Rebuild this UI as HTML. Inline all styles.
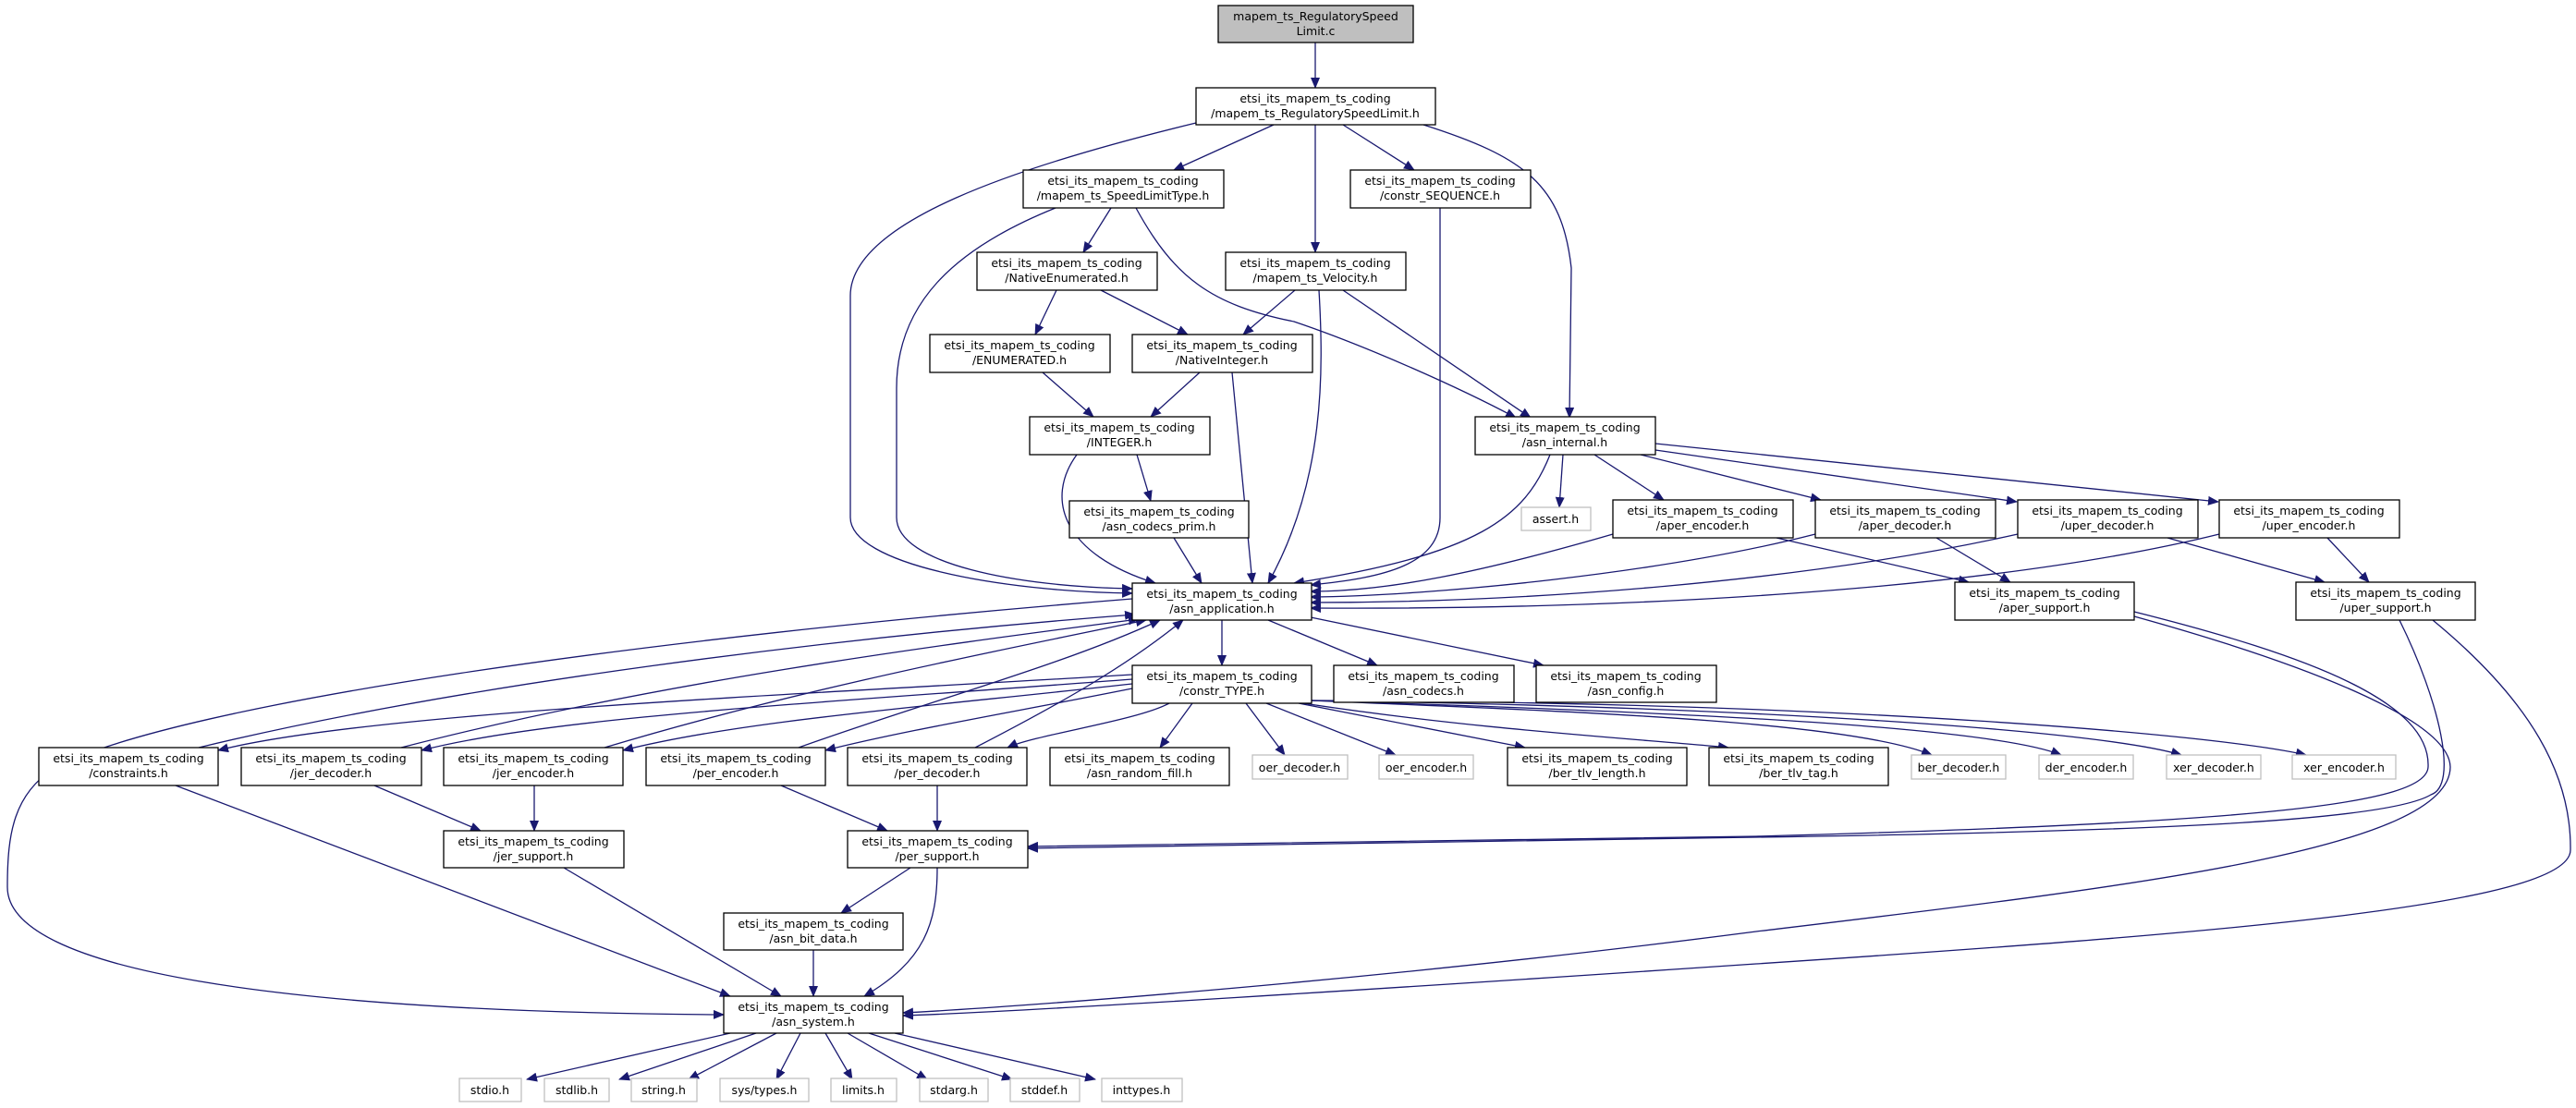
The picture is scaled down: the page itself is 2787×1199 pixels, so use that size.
<!DOCTYPE html>
<html><head><meta charset="utf-8"><style>
html,body{margin:0;padding:0;background:#fff}
svg{display:block}
text{font-family:"DejaVu Sans","Liberation Sans",sans-serif;font-size:12.5px;fill:#000}
.e{fill:none;stroke:#191970;stroke-width:1.3}
.n{fill:#fff;stroke:#000;stroke-width:1.3}
.g{fill:#fff;stroke:#bfbfbf;stroke-width:1.3}
</style></head><body>
<svg width="2787" height="1199" viewBox="0 0 2787 1199" xmlns="http://www.w3.org/2000/svg">
<defs><marker id="a" markerWidth="12" markerHeight="10" refX="11" refY="5" orient="auto" markerUnits="userSpaceOnUse"><path d="M0,0 L12,5 L0,10 z" fill="#191970"/></marker></defs>
<g class="e" marker-end="url(#a)">
<path d="M1423,46 L1423,95"/>
<path d="M1294,133 C1100,180 920,240 920,320 L920,560 C920,610 1080,640 1225,642"/>
<path d="M1378,135 L1270,184"/>
<path d="M1423,135 L1423,273"/>
<path d="M1453,135 L1530,184"/>
<path d="M1540,135 C1650,170 1690,200 1700,290 L1698,452"/>
<path d="M1142,225 C1030,270 970,330 970,420 L970,560 C970,610 1100,635 1225,637"/>
<path d="M1202,225 L1172,273"/>
<path d="M1229,225 C1270,300 1310,330 1400,348 C1480,375 1580,420 1640,452"/>
<path d="M1558,225 L1558,560 C1558,610 1500,625 1418,633"/>
<path d="M1401,314 L1345,362"/>
<path d="M1427,314 C1432,400 1434,520 1372,631"/>
<path d="M1453,314 L1656,452"/>
<path d="M1143,314 L1120,362"/>
<path d="M1191,314 L1285,362"/>
<path d="M1128,403 L1183,451"/>
<path d="M1298,403 L1245,451"/>
<path d="M1333,403 L1355,631"/>
<path d="M1165,492 C1130,540 1150,600 1250,631"/>
<path d="M1230,492 L1245,542"/>
<path d="M1270,582 L1300,631"/>
<path d="M1691,492 L1687,549"/>
<path d="M1677,492 C1650,560 1600,600 1400,631"/>
<path d="M1725,492 L1800,541"/>
<path d="M1775,492 L1970,541"/>
<path d="M1791,487 L2182,543"/>
<path d="M1791,480 L2400,543"/>
<path d="M1745,578 C1600,620 1500,640 1418,640"/>
<path d="M1964,578 C1800,620 1550,645 1418,646"/>
<path d="M2183,578 C1950,630 1650,652 1418,652"/>
<path d="M2401,578 C2150,640 1750,660 1418,658"/>
<path d="M1922,582 L2130,630"/>
<path d="M2095,582 L2175,630"/>
<path d="M2345,582 L2515,630"/>
<path d="M2518,582 L2563,630"/>
<path d="M2309,662 C2500,710 2630,760 2627,830 C2625,870 2450,890 1900,905 L1112,916"/>
<path d="M2309,667 C2500,720 2650,780 2651,830 C2650,920 2300,960 1900,1008 C1500,1060 1100,1090 977,1096"/>
<path d="M2596,671 C2640,760 2660,850 2630,860 C2580,890 2300,900 1900,906 L1112,918"/>
<path d="M2632,671 C2740,760 2782,840 2781,920 C2780,980 2400,1010 1900,1043 C1500,1070 1100,1095 977,1099"/>
<path d="M1322,671 L1322,720"/>
<path d="M1372,671 L1490,720"/>
<path d="M1418,668 L1670,720"/>
<path d="M1225,648 C700,690 200,760 60,830 C15,860 8,900 8,960 C8,1050 300,1095 783,1098"/>
<path d="M1225,730 C900,750 400,770 236,812"/>
<path d="M1225,735 C900,760 600,775 456,812"/>
<path d="M1225,740 C1000,765 800,780 674,812"/>
<path d="M1225,745 C1100,770 980,790 893,812"/>
<path d="M1265,761 C1230,780 1120,795 1090,809"/>
<path d="M1290,761 L1255,809"/>
<path d="M1348,761 L1390,817"/>
<path d="M1370,761 L1510,817"/>
<path d="M1405,761 L1650,809"/>
<path d="M1410,761 C1600,790 1780,800 1870,809"/>
<path d="M1418,758 C1700,770 2000,780 2090,817"/>
<path d="M1418,758 C1800,770 2150,785 2230,817"/>
<path d="M1418,758 C1900,765 2270,790 2360,817"/>
<path d="M1418,758 C2000,760 2400,795 2495,817"/>
<path d="M215,809 C500,740 900,690 1228,665"/>
<path d="M434,809 C700,740 1000,700 1232,670"/>
<path d="M654,809 C850,750 1050,710 1240,671"/>
<path d="M864,809 C1000,760 1150,720 1255,671"/>
<path d="M1055,809 C1150,760 1220,720 1280,671"/>
<path d="M190,850 L790,1078"/>
<path d="M405,850 L520,899"/>
<path d="M578,850 L578,899"/>
<path d="M845,850 L960,899"/>
<path d="M1014,850 L1014,899"/>
<path d="M610,939 L845,1078"/>
<path d="M985,939 L910,988"/>
<path d="M1014,939 C1014,1000 1000,1040 935,1078"/>
<path d="M880,1028 L880,1078"/>
<path d="M790,1118 L570,1168"/>
<path d="M818,1118 L670,1168"/>
<path d="M840,1118 L745,1168"/>
<path d="M866,1118 L840,1168"/>
<path d="M893,1118 L922,1168"/>
<path d="M917,1118 L1003,1168"/>
<path d="M940,1118 L1095,1168"/>
<path d="M968,1118 L1185,1168"/>
</g>
<g>
<rect x="1318" y="6" width="211" height="40" fill="#bfbfbf" stroke="#000" stroke-width="1.3"/>
<text x="1423.5" y="22" text-anchor="middle">mapem_ts_RegulatorySpeed</text><text x="1423.5" y="38" text-anchor="middle">Limit.c</text>
</g>
<g text-anchor="middle">
<rect class="n" x="1294" y="95" width="259" height="40"/><text x="1423" y="111">etsi_its_mapem_ts_coding</text><text x="1423" y="127">/mapem_ts_RegulatorySpeedLimit.h</text>
<rect class="n" x="1107" y="184" width="217" height="41"/><text x="1215" y="200">etsi_its_mapem_ts_coding</text><text x="1215" y="216">/mapem_ts_SpeedLimitType.h</text>
<rect class="n" x="1461" y="184" width="195" height="41"/><text x="1558" y="200">etsi_its_mapem_ts_coding</text><text x="1558" y="216">/constr_SEQUENCE.h</text>
<rect class="n" x="1057" y="273" width="195" height="41"/><text x="1154" y="289">etsi_its_mapem_ts_coding</text><text x="1154" y="305">/NativeEnumerated.h</text>
<rect class="n" x="1326" y="273" width="195" height="41"/><text x="1423" y="289">etsi_its_mapem_ts_coding</text><text x="1423" y="305">/mapem_ts_Velocity.h</text>
<rect class="n" x="1006" y="362" width="195" height="41"/><text x="1103" y="378">etsi_its_mapem_ts_coding</text><text x="1103" y="394">/ENUMERATED.h</text>
<rect class="n" x="1225" y="362" width="195" height="41"/><text x="1322" y="378">etsi_its_mapem_ts_coding</text><text x="1322" y="394">/NativeInteger.h</text>
<rect class="n" x="1114" y="451" width="195" height="41"/><text x="1211" y="467">etsi_its_mapem_ts_coding</text><text x="1211" y="483">/INTEGER.h</text>
<rect class="n" x="1596" y="451" width="195" height="41"/><text x="1693" y="467">etsi_its_mapem_ts_coding</text><text x="1693" y="483">/asn_internal.h</text>
<rect class="n" x="1157" y="542" width="194" height="40"/><text x="1254" y="558">etsi_its_mapem_ts_coding</text><text x="1254" y="574">/asn_codecs_prim.h</text>
<rect class="g" x="1646" y="549" width="75" height="25"/><text x="1683" y="566">assert.h</text>
<rect class="n" x="1745" y="541" width="195" height="41"/><text x="1842" y="557">etsi_its_mapem_ts_coding</text><text x="1842" y="573">/aper_encoder.h</text>
<rect class="n" x="1964" y="541" width="195" height="41"/><text x="2061" y="557">etsi_its_mapem_ts_coding</text><text x="2061" y="573">/aper_decoder.h</text>
<rect class="n" x="2183" y="541" width="195" height="41"/><text x="2280" y="557">etsi_its_mapem_ts_coding</text><text x="2280" y="573">/uper_decoder.h</text>
<rect class="n" x="2401" y="541" width="195" height="41"/><text x="2498" y="557">etsi_its_mapem_ts_coding</text><text x="2498" y="573">/uper_encoder.h</text>
<rect class="n" x="1225" y="631" width="194" height="40"/><text x="1322" y="647">etsi_its_mapem_ts_coding</text><text x="1322" y="663">/asn_application.h</text>
<rect class="n" x="2115" y="630" width="194" height="41"/><text x="2212" y="646">etsi_its_mapem_ts_coding</text><text x="2212" y="662">/aper_support.h</text>
<rect class="n" x="2484" y="630" width="194" height="41"/><text x="2581" y="646">etsi_its_mapem_ts_coding</text><text x="2581" y="662">/uper_support.h</text>
<rect class="n" x="1225" y="720" width="194" height="41"/><text x="1322" y="736">etsi_its_mapem_ts_coding</text><text x="1322" y="752">/constr_TYPE.h</text>
<rect class="n" x="1443" y="720" width="195" height="40"/><text x="1540" y="736">etsi_its_mapem_ts_coding</text><text x="1540" y="752">/asn_codecs.h</text>
<rect class="n" x="1662" y="720" width="195" height="40"/><text x="1759" y="736">etsi_its_mapem_ts_coding</text><text x="1759" y="752">/asn_config.h</text>
<rect class="n" x="42" y="809" width="194" height="41"/><text x="139" y="825">etsi_its_mapem_ts_coding</text><text x="139" y="841">/constraints.h</text>
<rect class="n" x="261" y="809" width="195" height="41"/><text x="358" y="825">etsi_its_mapem_ts_coding</text><text x="358" y="841">/jer_decoder.h</text>
<rect class="n" x="480" y="809" width="194" height="41"/><text x="577" y="825">etsi_its_mapem_ts_coding</text><text x="577" y="841">/jer_encoder.h</text>
<rect class="n" x="699" y="809" width="194" height="41"/><text x="796" y="825">etsi_its_mapem_ts_coding</text><text x="796" y="841">/per_encoder.h</text>
<rect class="n" x="917" y="809" width="194" height="41"/><text x="1014" y="825">etsi_its_mapem_ts_coding</text><text x="1014" y="841">/per_decoder.h</text>
<rect class="n" x="1136" y="809" width="194" height="41"/><text x="1233" y="825">etsi_its_mapem_ts_coding</text><text x="1233" y="841">/asn_random_fill.h</text>
<rect class="g" x="1355" y="817" width="103" height="26"/><text x="1406" y="835">oer_decoder.h</text>
<rect class="g" x="1492" y="817" width="102" height="26"/><text x="1543" y="835">oer_encoder.h</text>
<rect class="n" x="1631" y="809" width="194" height="41"/><text x="1728" y="825">etsi_its_mapem_ts_coding</text><text x="1728" y="841">/ber_tlv_length.h</text>
<rect class="n" x="1849" y="809" width="194" height="41"/><text x="1946" y="825">etsi_its_mapem_ts_coding</text><text x="1946" y="841">/ber_tlv_tag.h</text>
<rect class="g" x="2068" y="817" width="102" height="26"/><text x="2119" y="835">ber_decoder.h</text>
<rect class="g" x="2206" y="817" width="102" height="26"/><text x="2257" y="835">der_encoder.h</text>
<rect class="g" x="2344" y="817" width="102" height="26"/><text x="2395" y="835">xer_decoder.h</text>
<rect class="g" x="2480" y="817" width="112" height="26"/><text x="2536" y="835">xer_encoder.h</text>
<rect class="n" x="480" y="899" width="195" height="40"/><text x="577" y="915">etsi_its_mapem_ts_coding</text><text x="577" y="931">/jer_support.h</text>
<rect class="n" x="917" y="899" width="195" height="40"/><text x="1014" y="915">etsi_its_mapem_ts_coding</text><text x="1014" y="931">/per_support.h</text>
<rect class="n" x="783" y="988" width="194" height="40"/><text x="880" y="1004">etsi_its_mapem_ts_coding</text><text x="880" y="1020">/asn_bit_data.h</text>
<rect class="n" x="783" y="1078" width="194" height="40"/><text x="880" y="1094">etsi_its_mapem_ts_coding</text><text x="880" y="1110">/asn_system.h</text>
<rect class="g" x="497" y="1167" width="67" height="25"/><text x="530" y="1184">stdio.h</text>
<rect class="g" x="589" y="1167" width="70" height="25"/><text x="624" y="1184">stdlib.h</text>
<rect class="g" x="683" y="1167" width="71" height="25"/><text x="718" y="1184">string.h</text>
<rect class="g" x="779" y="1167" width="96" height="25"/><text x="827" y="1184">sys/types.h</text>
<rect class="g" x="899" y="1167" width="71" height="25"/><text x="934" y="1184">limits.h</text>
<rect class="g" x="995" y="1167" width="74" height="25"/><text x="1032" y="1184">stdarg.h</text>
<rect class="g" x="1093" y="1167" width="75" height="25"/><text x="1130" y="1184">stddef.h</text>
<rect class="g" x="1192" y="1167" width="87" height="25"/><text x="1235" y="1184">inttypes.h</text>
</g>
</svg>
</body></html>
